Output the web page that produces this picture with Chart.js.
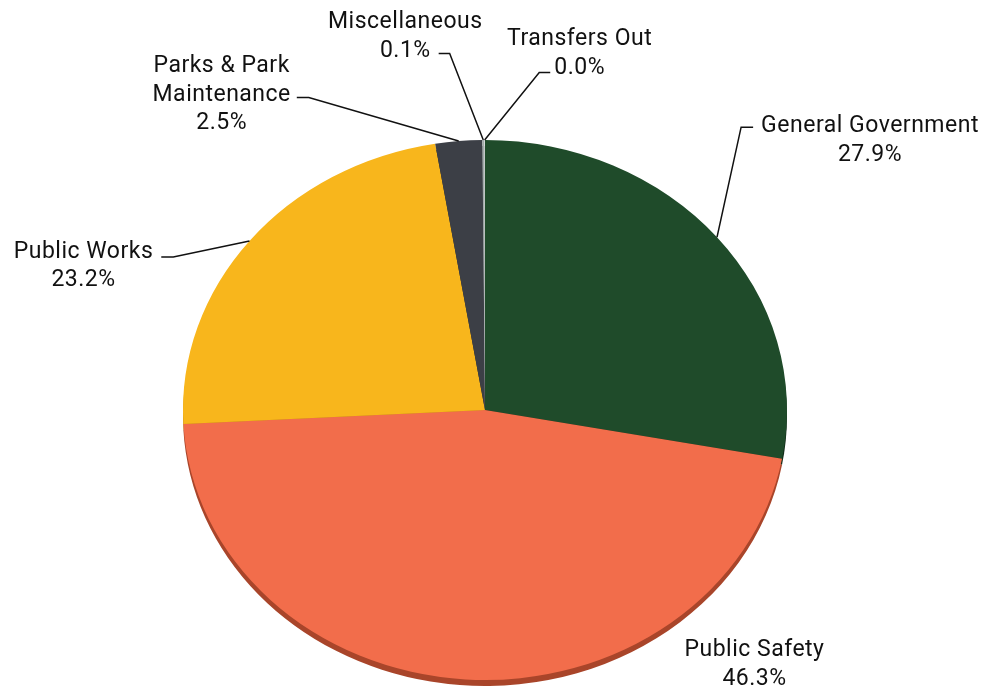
<!DOCTYPE html>
<html><head><meta charset="utf-8">
<script src="https://cdn.jsdelivr.net/npm/chart.js@4.4.1/dist/chart.umd.min.js"></script>
<style>html,body{margin:0;padding:0;background:#fff;}#wrap{width:985px;height:694px;position:relative;}</style>
</head><body><div id="wrap"><canvas id="c" width="985" height="694"></canvas></div>
<script>
// ---- data ----
const categories = ['General Government', 'Public Safety', 'Public Works', 'Parks & Park Maintenance', 'Miscellaneous', 'Transfers Out'];
const values = [27.9, 46.3, 23.2, 2.5, 0.1, 0.04];
const percentLabels = ['27.9%', '46.3%', '23.2%', '2.5%', '0.1%', '0.0%'];
const nameLines = [['General Government'], ['Public Safety'], ['Public Works'], ['Parks & Park', 'Maintenance'], ['Miscellaneous'], ['Transfers Out']];

// ---- styles ----
const faceColors = ['#1f4b2a', '#f26d4b', '#f8b61c', '#3c3f46', '#a3abab', '#cfd4d4'];
const depthColors = ['#122d19', '#a9452a', '#b8850f', '#25272c', '#6b7272', '#9aa0a0'];
const SY = 270 / 302;   // vertical squash of the tilted pie
const DEPTH = 6;        // thickness of the pie edge in px
const FONT = '23px Roboto';
const LINE_H = 28.5;
// label placement relative to each slice's outer mid point: dx,dy = text centre x / first baseline;
// lead: which line the leader attaches to, side of the text, and vertical offset from that baseline
const labelLayout = [
  {dx: 153, dy: -105, lead: 0, side: 'left', ly: -5, gap: 8, len: 12},
  {dx: 289, dy: -23, lead: null},
  {dx: -166, dy: 17, lead: 0, side: 'right', ly: -1, gap: 8, len: 12},
  {dx: -237, dy: -69, lead: 1, side: 'right', ly: -3, gap: 6, len: 12},
  {dx: -78, dy: -112, lead: 1, side: 'right', ly: -3, gap: 8, len: 11},
  {dx: 95, dy: -95, lead: 1, side: 'left', ly: -1, gap: 4, len: 11}
];

const pie3d = {
  id: 'pie3d',
  beforeDatasetsDraw(chart) {
    const ctx = chart.ctx;
    const meta = chart.getDatasetMeta(0);
    const cx = meta.data[0].x, cy = meta.data[0].y;
    ctx.save();
    ctx.translate(cx, cy); ctx.scale(1, SY); ctx.translate(-cx, -cy);
    const dcy = cy + DEPTH / SY;
    meta.data.forEach((arc, i) => {
      ctx.beginPath();
      ctx.moveTo(cx, dcy);
      ctx.arc(cx, dcy, arc.outerRadius, arc.startAngle, arc.endAngle);
      ctx.closePath();
      ctx.fillStyle = depthColors[i];
      ctx.fill();
    });
  },
  afterDatasetsDraw(chart) { chart.ctx.restore(); }
};

const pieLabels = {
  id: 'pieLabels',
  afterDraw(chart) {
    const ctx = chart.ctx;
    const meta = chart.getDatasetMeta(0);
    ctx.save();
    ctx.font = FONT;
    if ('letterSpacing' in ctx) ctx.letterSpacing = '0.5px';
    ctx.fillStyle = '#111';
    ctx.strokeStyle = '#111';
    ctx.lineWidth = 1.5;
    ctx.textAlign = 'center';
    ctx.textBaseline = 'alphabetic';
    meta.data.forEach((arc, i) => {
      const mid = (arc.startAngle + arc.endAngle) / 2;
      const ax = arc.x + arc.outerRadius * Math.cos(mid);
      const ay = arc.y + arc.outerRadius * Math.sin(mid) * SY;
      const L = labelLayout[i];
      const lines = nameLines[i].concat([percentLabels[i]]);
      const tx = ax + L.dx, ty = ay + L.dy;
      lines.forEach((t, k) => ctx.fillText(t, tx, ty + k * LINE_H));
      if (L.lead !== null) {
        const w = ctx.measureText(lines[L.lead]).width;
        const y = ty + L.lead * LINE_H + L.ly;
        const near = L.side === 'left' ? tx - w / 2 - L.gap : tx + w / 2 + L.gap;
        const far = L.side === 'left' ? near - L.len : near + L.len;
        ctx.beginPath();
        ctx.moveTo(near, y);
        ctx.lineTo(far, y);
        ctx.lineTo(ax, ay);
        ctx.stroke();
      }
    });
    ctx.restore();
  }
};

new Chart(document.getElementById('c'), {
  type: 'pie',
  data: {
    labels: categories,
    datasets: [{
      data: values,
      backgroundColor: faceColors,
      borderWidth: 0,
      clip: false,
      radius: 302
    }]
  },
  options: {
    responsive: false,
    animation: false,
    devicePixelRatio: 1,
    layout: {padding: {left: 0, right: 15, top: 126, bottom: 0}},
    plugins: {legend: {display: false}, tooltip: {enabled: false}}
  },
  plugins: [pie3d, pieLabels]
});
</script></body></html>
